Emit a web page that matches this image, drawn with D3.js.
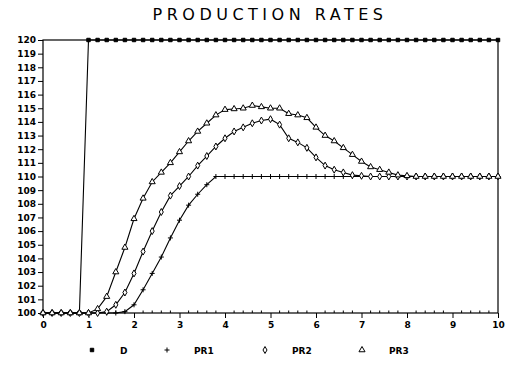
<!DOCTYPE html>
<html>
<head>
<meta charset="utf-8">
<script src="https://cdn.jsdelivr.net/npm/d3@7"></script>
<style>
	body { margin: 0; background: #fff; }
	svg text { font-family: "DejaVu Sans", sans-serif; fill: #000; }
	.tick-label { font-size: 9px; font-weight: bold; }
	.legend text { font-size: 9px; font-weight: bold; }
</style>
</head>
<body>
<div id="chart"></div>
<script>
// time steps (0 .. 10 by 0.2)
var times = d3.range(0, 51).map(function(i) { return +(i * 0.2).toFixed(1); });

var seriesD = [100,100,100,100,100,120,120,120,120,120,
	120,120,120,120,120,120,120,120,120,120,
	120,120,120,120,120,120,120,120,120,120,
	120,120,120,120,120,120,120,120,120,120,
	120,120,120,120,120,120,120,120,120,120,120];

var seriesPR1 = [100,100,100,100,100,100,100,100,100,100.1,
	100.6,101.7,102.9,104.1,105.5,106.8,107.9,108.7,109.4,110,
	110,110,110,110,110,110,110,110,110,110,
	110,110,110,110,110,110,110,110,110,110,
	110,110,110,110,110,110,110,110,110,110,110];

var seriesPR2 = [100,100,100,100,100,100,100,100.1,100.6,101.5,
	102.9,104.5,106.0,107.4,108.6,109.3,110.0,110.8,111.5,112.2,
	112.8,113.3,113.6,113.9,114.1,114.2,113.8,112.8,112.5,112.1,
	111.4,110.8,110.5,110.3,110.1,110.05,110,110,110,110,
	110,110,110,110,110,110,110,110,110,110,110];

var seriesPR3 = [100,100,100,100,100,100,100.3,101.2,103.0,104.8,
	106.9,108.4,109.6,110.3,111.0,111.8,112.6,113.3,113.9,114.5,
	114.9,114.95,115.0,115.2,115.1,115.0,115.0,114.6,114.5,114.3,
	113.6,113.0,112.6,112.1,111.6,111.1,110.7,110.5,110.3,110.1,
	110.05,110,110,110,110,110,110,110,110,110,110];

var seriesNames = ['D', 'PR1', 'PR2', 'PR3'];
var xTicks = d3.range(0, 11);
var yTicks = d3.range(100, 121);

var width = 508, height = 366;
var margin = {left: 43, right: 10, top: 40, bottom: 53};

var svg = d3.select('#chart').append('svg')
	.attr('width', width)
	.attr('height', height);

var x = d3.scaleLinear().domain([0, 10]).range([margin.left, width - margin.right]);
var y = d3.scaleLinear().domain([100, 120]).range([height - margin.bottom, margin.top]);

// title
svg.append('text')
	.attr('x', 270)
	.attr('y', 20)
	.attr('text-anchor', 'middle')
	.style('font-size', '16px')
	.style('letter-spacing', '4.5px')
	.text('PRODUCTION RATES');

// frame
svg.append('rect')
	.attr('x', x(0))
	.attr('y', y(120))
	.attr('width', x(10) - x(0))
	.attr('height', y(100) - y(120))
	.attr('fill', 'none')
	.attr('stroke', '#000')
	.attr('stroke-width', 1.2);

// y axis
var yAxis = d3.axisLeft(y)
	.tickValues(yTicks)
	.tickSize(5)
	.tickPadding(2)
	.tickFormat(d3.format('d'));
var gy = svg.append('g')
	.attr('transform', 'translate(' + x(0) + ',0)')
	.call(yAxis);
gy.select('.domain').remove();
gy.selectAll('text').attr('class', 'tick-label').style('font-family', '"DejaVu Sans", sans-serif');

// x axis (major ticks down, minor ticks up)
var xAxis = d3.axisBottom(x)
	.tickValues(xTicks)
	.tickSize(5)
	.tickPadding(4)
	.tickFormat(d3.format('d'));
var gx = svg.append('g')
	.attr('transform', 'translate(0,' + y(100) + ')')
	.call(xAxis);
gx.select('.domain').remove();
gx.selectAll('text').attr('class', 'tick-label').style('font-family', '"DejaVu Sans", sans-serif');

svg.append('g').selectAll('line')
	.data(times.filter(function(t) { return Math.round(t * 10) % 10 != 0; }))
	.enter().append('line')
	.attr('x1', function(d) { return x(d); })
	.attr('x2', function(d) { return x(d); })
	.attr('y1', y(100))
	.attr('y2', y(100) - 2.5)
	.attr('stroke', '#000');

// lines
var line = d3.line()
	.x(function(d, i) { return x(times[i]); })
	.y(function(d) { return y(d); });

var allSeries = [seriesD, seriesPR1, seriesPR2, seriesPR3];

svg.append('g').selectAll('path')
	.data(allSeries)
	.enter().append('path')
	.attr('d', line)
	.attr('fill', 'none')
	.attr('stroke', '#000')
	.attr('stroke-width', 1.1);

// markers
var symbols = [
	d3.symbol().type(d3.symbolSquare).size(12),
	d3.symbol().type(d3.symbolCross).size(14),
	d3.symbol().type(d3.symbolDiamond).size(14),
	d3.symbol().type(d3.symbolTriangle).size(16)
];
var fills = ['#000', '#000', '#fff', '#fff'];

allSeries.forEach(function(s, k) {
	svg.append('g').selectAll('path')
		.data(s)
		.enter().append('path')
		.attr('transform', function(d, i) { return 'translate(' + x(times[i]) + ',' + y(d) + ')'; })
		.attr('d', k == 1 ? plusPath : symbols[k])
		.attr('fill', fills[k])
		.attr('stroke', '#000')
		.attr('stroke-width', 1);
});

function plusPath() {
	return 'M-2.5,0H2.5M0,-2.5V2.5';
}

// legend
var legendX = [92, 167, 265, 362];
var legend = svg.append('g').attr('class', 'legend');
seriesNames.forEach(function(name, k) {
	legend.append('path')
		.attr('transform', 'translate(' + legendX[k] + ',350)')
		.attr('d', k == 1 ? plusPath : symbols[k])
		.attr('fill', fills[k])
		.attr('stroke', '#000')
		.attr('stroke-width', 1);
	legend.append('text')
		.attr('x', legendX[k] + (k == 0 ? 28 : 27))
		.attr('y', 353.5)
		.text(name);
});
</script>
</body>
</html>
